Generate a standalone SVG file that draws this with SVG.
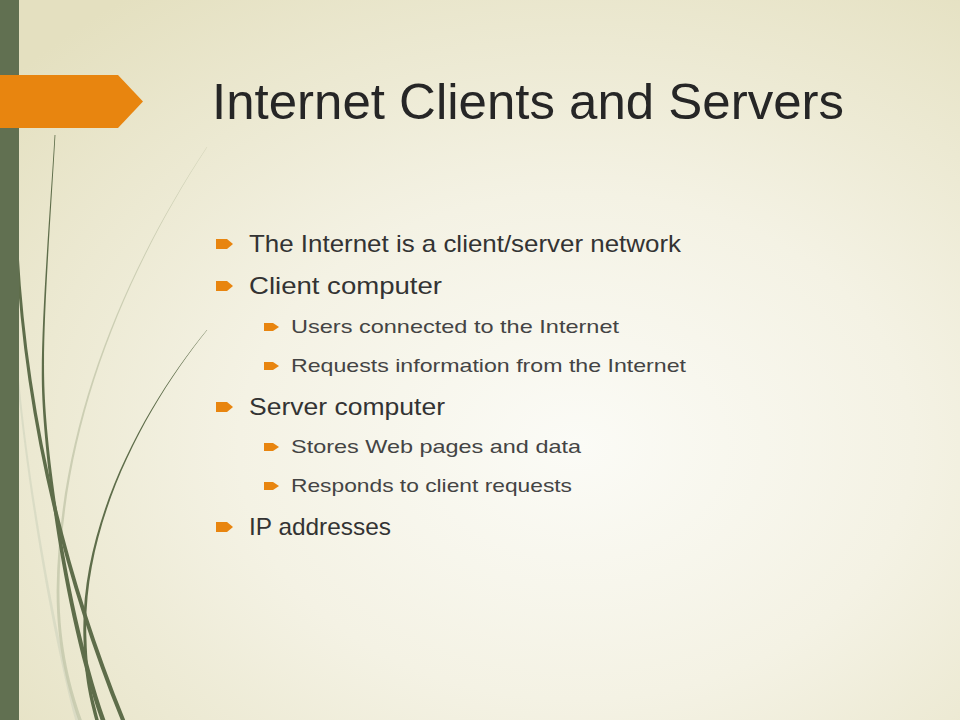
<svg xmlns="http://www.w3.org/2000/svg" width="960" height="720" viewBox="0 0 960 720">
  <defs>
    <radialGradient id="bg" cx="0.6" cy="0.62" r="0.78">
      <stop offset="0" stop-color="#fbfbf6"/>
      <stop offset="0.45" stop-color="#f4f2e4"/>
      <stop offset="1" stop-color="#e4e0c0"/>
    </radialGradient>
    <style>
      .title { font-family: "Liberation Sans", Arial, sans-serif; font-size: 50px; fill: #262626; }
      .l1 { font-family: "Liberation Sans", Arial, sans-serif; font-size: 24px; fill: #333333; }
      .l2 { font-family: "Liberation Sans", Arial, sans-serif; font-size: 19px; fill: #444444; }
      .bul { fill: #e8850f; }
      .dark { fill: #5e6d4a; }
      .light { fill: #c6c9ad; opacity: 0.85; }
      .faint { fill: #d6d8c2; opacity: 0.8; }
    </style>
  </defs>

  <rect width="960" height="720" fill="url(#bg)"/>

  <g id="wisps">
    <path class="faint" d="M17,380 C29,500 53.6,640 75.2,720 L78.8,720 C56.4,640 31,500 19,380 Z"/>
    <path class="light" d="M206.8,147 C119.4,280 59,430 56.6,590 C56.5,650 68.4,690 78.2,720 L81.8,720 C71.6,690 59.5,650 59.4,590 C61,430 120.6,280 207.2,147 Z"/>
    <path class="dark" d="M54.6,135 C49.4,220 41.2,320 41.8,380 C42.6,450 62.8,610 100.6,720 L105.4,720 C67.2,610 45.4,450 44.2,380 C42.8,320 50.6,220 55.4,135 Z"/>
    <path class="dark" d="M15.6,250 C23.4,400 56,560 120.8,720 L125.2,720 C60,560 26.6,400 18.4,250 Z"/>
    <path class="dark" d="M206.8,330 C149.4,400 79,520 83.5,640 C84.4,680 90.2,700 95.2,720 L98.8,720 C93.8,700 87.6,680 86.5,640 C81,520 150.6,400 207.2,330 Z"/>
  </g>

  <rect id="side-bar" x="0" y="0" width="19" height="720" fill="#617051"/>
  <path id="title-arrow" d="M0,75 L118,75 L143,101.5 L118,128 L0,128 Z" fill="#e8850f"/>

  <g id="title">
    <text class="title" x="212" y="119" textLength="632" lengthAdjust="spacingAndGlyphs">Internet Clients and Servers</text>
  </g>

  <g id="bullet-1">
    <path class="bul" d="M216,239 L227,239 L233,244 L227,249 L216,249 Z"/>
    <text class="l1" x="249" y="252" textLength="432" lengthAdjust="spacingAndGlyphs">The Internet is a client/server network</text>
  </g>
  <g id="bullet-2">
    <path class="bul" d="M216,281 L227,281 L233,286 L227,291 L216,291 Z"/>
    <text class="l1" x="249" y="294" textLength="193" lengthAdjust="spacingAndGlyphs">Client computer</text>
  </g>
  <g id="bullet-2-1">
    <path class="bul" d="M264,323 L273,323 L279,327 L273,331 L264,331 Z"/>
    <text class="l2" x="291" y="333" textLength="328" lengthAdjust="spacingAndGlyphs">Users connected to the Internet</text>
  </g>
  <g id="bullet-2-2">
    <path class="bul" d="M264,362 L273,362 L279,366 L273,370 L264,370 Z"/>
    <text class="l2" x="291" y="372" textLength="395" lengthAdjust="spacingAndGlyphs">Requests information from the Internet</text>
  </g>
  <g id="bullet-3">
    <path class="bul" d="M216,402 L227,402 L233,407 L227,412 L216,412 Z"/>
    <text class="l1" x="249" y="415" textLength="196" lengthAdjust="spacingAndGlyphs">Server computer</text>
  </g>
  <g id="bullet-3-1">
    <path class="bul" d="M264,443 L273,443 L279,447 L273,451 L264,451 Z"/>
    <text class="l2" x="291" y="453" textLength="290" lengthAdjust="spacingAndGlyphs">Stores Web pages and data</text>
  </g>
  <g id="bullet-3-2">
    <path class="bul" d="M264,482 L273,482 L279,486 L273,490 L264,490 Z"/>
    <text class="l2" x="291" y="492" textLength="281" lengthAdjust="spacingAndGlyphs">Responds to client requests</text>
  </g>
  <g id="bullet-4">
    <path class="bul" d="M216,522 L227,522 L233,527 L227,532 L216,532 Z"/>
    <text class="l1" x="249" y="535" textLength="142" lengthAdjust="spacingAndGlyphs">IP addresses</text>
  </g>
</svg>
